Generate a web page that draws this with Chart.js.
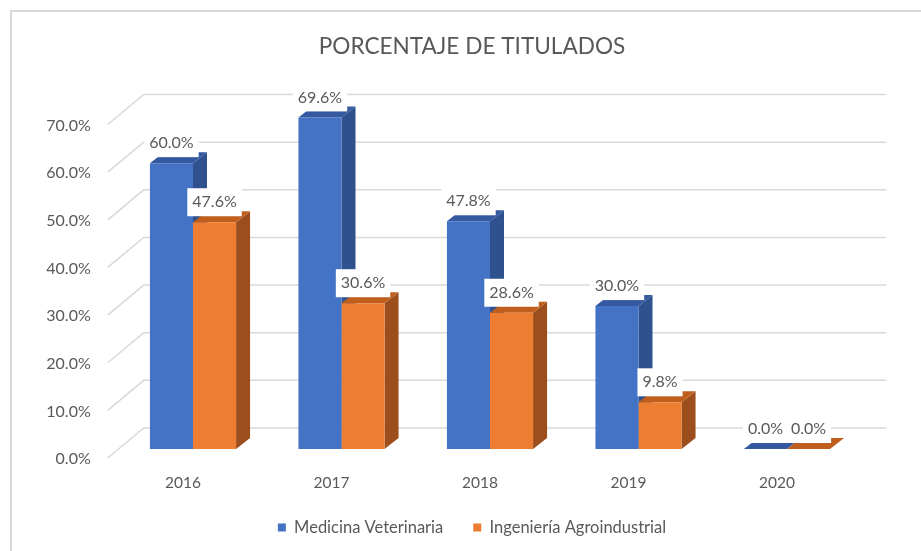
<!DOCTYPE html>
<html>
<head>
<meta charset="utf-8">
<script src="https://cdn.jsdelivr.net/npm/chart.js@4.4.0/dist/chart.umd.min.js"></script>
<style>
  html, body { margin: 0; padding: 0; background: #fff; }
  #wrap { width: 921px; height: 551px; }
</style>
</head>
<body>
<div id="wrap"><canvas id="grafico" width="921" height="551"></canvas></div>
<script>
const years = ['2016', '2017', '2018', '2019', '2020'];
const medicina = [60.0, 69.6, 47.8, 30.0, 0.0];
const ingenieria = [47.6, 30.6, 28.6, 9.8, 0.0];
const yTicks = [0, 10, 20, 30, 40, 50, 60, 70];

const FONT = 'Lato, "Open Sans", sans-serif';
const TEXT = '#595959';
const GRID = '#d9d9d9';

// profondita' finta 3D
const BAR_DX = 14, BAR_DY = -11;      // lato / tetto delle barre
const FRONT_DX = -11, FRONT_DY = 9;   // piano frontale rispetto alle barre
const BACK_DX = 25, BACK_DY = -21;    // parete di fondo rispetto alle barre

const sideColors = ['#2f528f', '#9c4f1c'];
const topColors = ['#3459a0', '#c05f1d'];

const fake3d = {
    id: 'fake3d',
    beforeDraw(chart) {
        const ctx = chart.ctx;
        ctx.save();
        ctx.fillStyle = '#fff';
        ctx.fillRect(0, 0, chart.width, chart.height);
        ctx.strokeStyle = GRID;
        ctx.lineWidth = 2;
        ctx.beginPath();
        ctx.moveTo(11, chart.height);
        ctx.lineTo(11, 11);
        ctx.lineTo(chart.width, 11);
        ctx.stroke();
        ctx.restore();
    },
    beforeDatasetsDraw(chart) {
        const ctx = chart.ctx;
        const y = chart.scales.y;
        const area = chart.chartArea;
        ctx.save();
        // griglia: parete sinistra + fondo
        ctx.strokeStyle = GRID;
        ctx.lineWidth = 1.5;
        yTicks.forEach(v => {
            const py = y.getPixelForValue(v);
            ctx.beginPath();
            ctx.moveTo(area.left + FRONT_DX, py + FRONT_DY);
            ctx.lineTo(area.left + BACK_DX, py + BACK_DY);
            ctx.lineTo(area.right + BACK_DX, py + BACK_DY);
            ctx.stroke();
        });
        // lati e tetti delle barre
        chart.data.datasets.forEach((ds, i) => {
            const meta = chart.getDatasetMeta(i);
            meta.data.forEach(bar => {
                const x0 = bar.x - bar.width / 2;
                const x1 = bar.x + bar.width / 2;
                const top = bar.y, base = bar.base;
                ctx.fillStyle = sideColors[i];
                ctx.beginPath();
                ctx.moveTo(x1, top);
                ctx.lineTo(x1 + BAR_DX, top + BAR_DY);
                ctx.lineTo(x1 + BAR_DX, base + BAR_DY);
                ctx.lineTo(x1, base);
                ctx.closePath();
                ctx.fill();
                ctx.fillStyle = topColors[i];
                ctx.beginPath();
                ctx.moveTo(x0, top);
                ctx.lineTo(x1, top);
                ctx.lineTo(x1 + BAR_DX, top + BAR_DY);
                ctx.lineTo(x0 + BAR_DX, top + BAR_DY);
                ctx.closePath();
                ctx.fill();
            });
        });
        ctx.restore();
    },
    afterDatasetsDraw(chart) {
        const ctx = chart.ctx;
        ctx.save();
        ctx.font = '16px ' + FONT;
        ctx.textAlign = 'center';
        ctx.textBaseline = 'middle';
        chart.data.datasets.forEach((ds, i) => {
            const meta = chart.getDatasetMeta(i);
            meta.data.forEach((bar, j) => {
                const txt = ds.data[j].toFixed(1) + '%';
                const w = ctx.measureText(txt).width + 10;
                const cy = bar.y - 20;
                ctx.fillStyle = '#fff';
                ctx.fillRect(bar.x - w / 2, cy - 14, w, 28);
                ctx.fillStyle = TEXT;
                ctx.fillText(txt, bar.x, cy);
            });
        });
        ctx.restore();
    }
};

new Chart(document.getElementById('grafico'), {
    type: 'bar',
    data: {
        labels: years,
        datasets: [{
            label: 'Medicina Veterinaria',
            data: medicina,
            backgroundColor: '#4472c4',
            categoryPercentage: 0.58,
            barPercentage: 1.0
        }, {
            label: 'Ingeniería Agroindustrial',
            data: ingenieria,
            backgroundColor: '#ed7d31',
            categoryPercentage: 0.58,
            barPercentage: 1.0
        }]
    },
    options: {
        responsive: false,
        animation: false,
        layout: { padding: { left: 24, right: 1, top: 10, bottom: 5.25 } },
        plugins: {
            title: {
                display: true,
                text: 'PORCENTAJE DE TITULADOS',
                color: TEXT,
                font: { family: FONT, size: 22.6, weight: 'normal' },
                padding: { top: 23.4, bottom: 55 }
            },
            legend: {
                position: 'bottom',
                labels: {
                    color: TEXT,
                    font: { family: FONT, size: 16.5 },
                    boxWidth: 8,
                    boxHeight: 8,
                    padding: 30
                }
            },
            tooltip: { enabled: false }
        },
        scales: {
            x: {
                grid: { display: false, drawTicks: false },
                border: { display: false },
                ticks: { color: TEXT, font: { family: FONT, size: 15.5 }, padding: 25, labelOffset: -10 },
                afterFit: s => { s.height = 40.25; }
            },
            y: {
                min: 0,
                max: 70,
                grid: { display: false, drawTicks: false },
                border: { display: false },
                ticks: {
                    color: TEXT,
                    font: { family: FONT, size: 16 },
                    stepSize: 10,
                    padding: 28,
                    labelOffset: 10,
                    callback: v => v.toFixed(1) + '%'
                },
                afterFit: s => { s.width = 94.75; }
            },
            y2: {
                position: 'right',
                display: true,
                grid: { display: false, drawTicks: false },
                border: { display: false },
                ticks: { display: false },
                afterFit: s => { s.width = 58.75; }
            }
        }
    },
    plugins: [fake3d]
});
</script>
</body>
</html>
